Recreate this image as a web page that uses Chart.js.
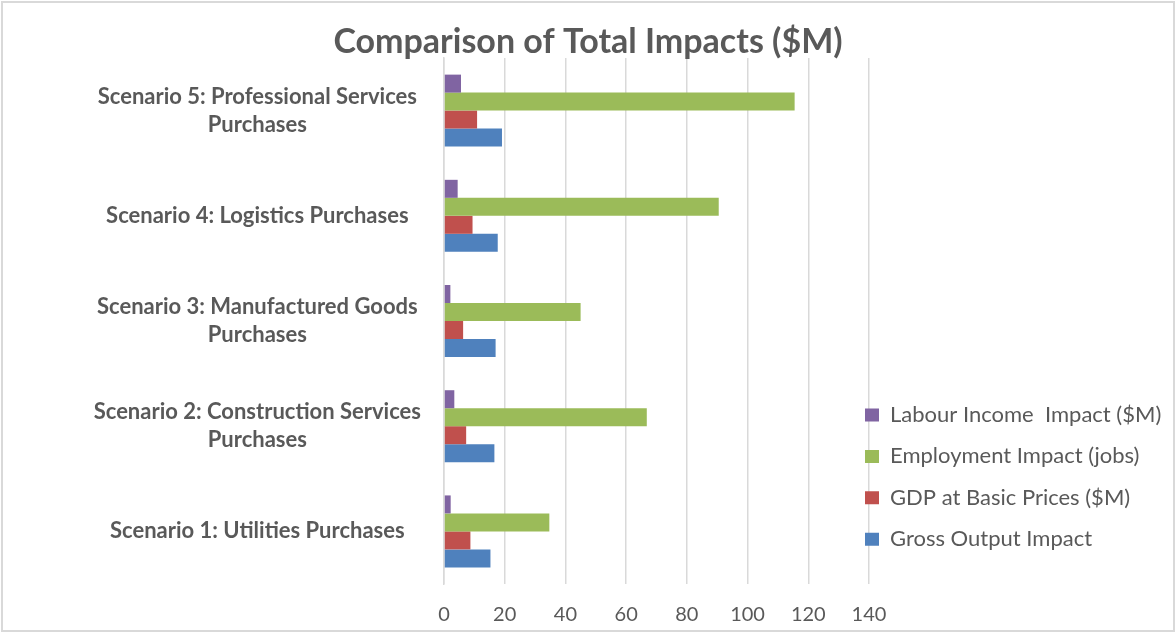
<!DOCTYPE html>
<html>
<head>
<meta charset="utf-8">
<script src="https://cdn.jsdelivr.net/npm/chart.js@4.4.1/dist/chart.umd.min.js"></script>
<style>
  html, body { margin: 0; padding: 0; background: #ffffff; overflow: hidden; }
  #wrap { position: relative; width: 1176px; height: 633px; }
  #c { position: absolute; left: 0; top: 0; }
  #frame { position: absolute; left: 1px; top: 1px; width: 1174px; height: 631px;
           box-sizing: border-box; border: 2px solid #d9d9d9; pointer-events: none; }
</style>
</head>
<body>
<div id="wrap">
  <canvas id="c" width="1176" height="633"></canvas>
  <div id="frame"></div>
</div>
<script>
// ---- data (categories listed Scenario 1 .. Scenario 5) ----
const categories = [
  ['Scenario 1: Utilities Purchases'],
  ['Scenario 2: Construction Services', 'Purchases'],
  ['Scenario 3: Manufactured Goods', 'Purchases'],
  ['Scenario 4: Logistics Purchases'],
  ['Scenario 5: Professional Services', 'Purchases']
];
const labourIncome = [2.2, 3.4, 2.1, 4.5, 5.6];
const employment   = [34.7, 66.8, 45.0, 90.5, 115.5];
const gdpBasic     = [8.7, 7.3, 6.3, 9.4, 10.9];
const grossOutput  = [15.3, 16.6, 17.0, 17.7, 19.1];
const seriesNames = [
  'Labour Income  Impact ($M)',
  'Employment Impact (jobs)',
  'GDP at Basic Prices ($M)',
  'Gross Output Impact'
];
const xTicks = [0, 20, 40, 60, 80, 100, 120, 140];

const colours = ['#8064A2', '#9BBB59', '#C0504D', '#4F81BD'];
const textColour = '#595959';

Chart.defaults.font.family = 'Lato, "Open Sans", sans-serif';
Chart.defaults.color = textColour;

// place the legend to the right and centre the title on the whole canvas, as in the reference
const blockPlacer = {
  id: 'blockPlacer',
  afterLayout(chart) {
    const lg = chart.legend;
    if (lg) {
      const pad = lg.options.labels.padding;
      const w = lg.width;
      lg.left = 865 - pad;
      lg.right = lg.left + w + 60;
      lg.top = 404 - pad;
      lg.bottom = lg.top + 220;
    }
    const tb = chart.titleBlock;
    if (tb) {
      tb.left = 0;
      tb.right = chart.width;
      tb.width = chart.width;
    }
  }
};

const seriesData = [labourIncome, employment, gdpBasic, grossOutput];

new Chart(document.getElementById('c'), {
  type: 'bar',
  data: {
    labels: categories,
    datasets: seriesNames.map((name, i) => ({
      label: name,
      data: seriesData[i],
      backgroundColor: colours[i],
      borderWidth: 0,
      categoryPercentage: 0.684,
      barPercentage: 1.0
    }))
  },
  plugins: [blockPlacer],
  options: {
    indexAxis: 'y',
    responsive: false,
    animation: false,
    devicePixelRatio: 1,
    layout: { padding: { left: 0, right: 307, top: 0, bottom: 0 } },
    plugins: {
      title: {
        display: true,
        text: 'Comparison of Total Impacts ($M)',
        color: textColour,
        font: { size: 34, weight: 'bold', lineHeight: 1.0 },
        padding: { top: 25, bottom: -1 }
      },
      legend: {
        display: true,
        position: 'chartArea',
        align: 'start',
        labels: {
          color: textColour,
          font: { size: 22 },
          boxWidth: 14,
          boxHeight: 13,
          padding: 19.4
        }
      },
      tooltip: { enabled: false }
    },
    scales: {
      x: {
        type: 'linear',
        min: xTicks[0],
        max: xTicks[xTicks.length - 1],
        afterBuildTicks: (scale) => { scale.ticks = xTicks.map(v => ({ value: v })); },
        afterFit: (scale) => { scale.height = 49; },
        grid: { color: '#d9d9d9', lineWidth: 1.5, drawTicks: false },
        border: { display: false },
        ticks: { color: textColour, font: { size: 20 }, padding: 19, maxRotation: 0 }
      },
      y: {
        reverse: true,
        afterFit: (scale) => { scale.width = 444; },
        grid: { display: false, drawTicks: false },
        border: { display: true, color: '#d9d9d9', width: 1.5 },
        ticks: {
          color: textColour,
          font: { size: 22, weight: 'bold', lineHeight: 1.273 },
          crossAlign: 'center',
          padding: 23,
          autoSkip: false
        }
      }
    }
  }
});
</script>
</body>
</html>
